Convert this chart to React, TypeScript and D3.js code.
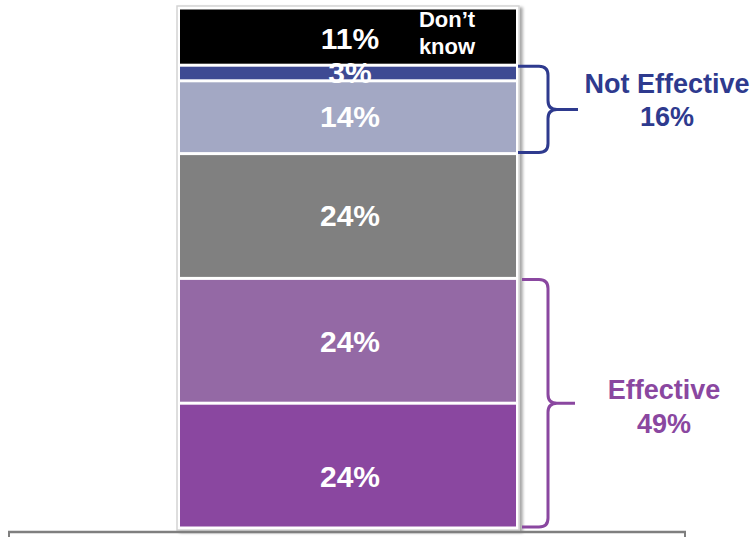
import React from "react";
import * as d3 from "d3";

const categories = ["Very effective", "Somewhat effective", "Neither", "Not very effective", "Not at all effective", "Don't know"];
const values = [24, 24, 24, 14, 3, 11];
const labels = ["24%", "24%", "24%", "14%", "3%", "11%"];
const colors = ["#8A47A0", "#9469A5", "#808080", "#A3A8C4", "#3E4A93", "#000000"];
const groups = [
  { name: "Effective", total: "49%", from: 0, to: 1, color: "#8A47A0" },
  { name: "Not Effective", total: "16%", from: 3, to: 4, color: "#2E3A8E" },
];

export default function App() {
  const W = 753, H = 537;
  const x0 = 180, x1 = 516;
  const y = d3.scaleLinear().domain([0, 100]).range([528, 8]);
  const stacked = d3.cumsum(values);
  const segs = values.map((v, i) => ({
    cat: categories[i],
    v,
    start: i === 0 ? 0 : stacked[i - 1],
    end: stacked[i],
  }));
  const font = "'Liberation Sans', Arial, sans-serif";
  const labelDy = [21, 11, 10, 10, 0, 12];

  const brace = (yTop: number, yBot: number, xl: number, xr: number, xp: number) => {
    const ym = (yTop + yBot) / 2;
    const r = 9;
    return `M${xl},${yTop} L${xr - r},${yTop} Q${xr},${yTop} ${xr},${yTop + r} L${xr},${ym - r} Q${xr},${ym} ${xr + r},${ym} L${xp},${ym} M${xr + r},${ym} Q${xr},${ym} ${xr},${ym + r} L${xr},${yBot - r} Q${xr},${yBot} ${xr - r},${yBot} L${xl},${yBot}`;
  };

  return (
    <svg width={W} height={H} style={{ position: "absolute", left: 0, top: 0 }}>
      <defs>
        <filter id="sh" x="-5%" y="-5%" width="115%" height="115%">
          <feDropShadow dx="3" dy="2" stdDeviation="1.5" floodColor="#000" floodOpacity="0.35" />
        </filter>
      </defs>
      <rect x={x0 - 3} y={y(100) - 2} width={x1 - x0 + 6} height={y(0) - y(100) + 4} fill="#fff" stroke="#d4d4d4" strokeWidth={1.5} filter="url(#sh)" />
      {segs.map((s, i) => (
        <rect key={s.cat} x={x0} y={y(s.end) + 1.5} width={x1 - x0} height={Math.max(0, y(s.start) - y(s.end) - 3)} fill={colors[i]} />
      ))}
      {segs.map((s, i) => {
        const cy = (y(s.start) + y(s.end)) / 2;
        const isSmall = s.v < 5;
        return (
          <text key={"l" + i} x={350} y={isSmall ? 83 : cy + labelDy[i]} textAnchor="middle" fill="#fff" fontFamily={font} fontWeight="bold" fontSize={30}>
            {labels[i]}
          </text>
        );
      })}
      <text x={447} y={27} textAnchor="middle" fill="#fff" fontFamily={font} fontWeight="bold" fontSize={22}>Don’t</text>
      <text x={447} y={54} textAnchor="middle" fill="#fff" fontFamily={font} fontWeight="bold" fontSize={22}>know</text>
      <line x1={8} x2={686} y1={532} y2={532} stroke="#7f7f7f" strokeWidth={2.5} />
      <line x1={9} x2={9} y1={531} y2={537} stroke="#7f7f7f" strokeWidth={2} />
      <line x1={685} x2={685} y1={531} y2={537} stroke="#7f7f7f" strokeWidth={2} />
      {groups.map((g) => {
        const top = y(stacked[g.to]) + 1;
        const bot = y(g.from === 0 ? 0 : stacked[g.from - 1]) - 1;
        const isNE = g.name === "Not Effective";
        const tx = isNE ? 667 : 664;
        return (
          <g key={g.name}>
            <path d={brace(top, bot, isNE ? 518 : 522, 548, isNE ? 578 : 575)} fill="none" stroke={g.color} strokeWidth={3} />
            <text x={tx} y={isNE ? 93 : 399} textAnchor="middle" fill={g.color} fontFamily={font} fontWeight="bold" fontSize={27}>{g.name}</text>
            <text x={tx} y={isNE ? 126 : 433} textAnchor="middle" fill={g.color} fontFamily={font} fontWeight="bold" fontSize={27}>{g.total}</text>
          </g>
        );
      })}
    </svg>
  );
}
